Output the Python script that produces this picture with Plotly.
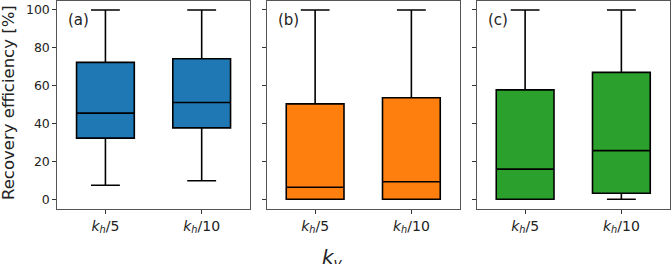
import plotly.graph_objects as go

W, H = 672, 264

# ---- data ----
categories = ["k_h/5", "k_h/10"]
tick_labels = ["<i>k</i><sub><i>h</i></sub>/5", "<i>k</i><sub><i>h</i></sub>/10"]
panel_labels = ["(a)", "(b)", "(c)"]
colors = ["#1f77b4", "#ff7f0e", "#2ca02c"]

a_lower = [7.4, 9.8]
a_q1 = [32.3, 37.7]
a_median = [45.5, 51.1]
a_q3 = [72.3, 74.2]
a_upper = [100, 100]

b_lower = [0, 0]
b_q1 = [0, 0]
b_median = [6.3, 9.2]
b_q3 = [50.4, 53.6]
b_upper = [100, 100]

c_lower = [0, 0]
c_q1 = [0, 3.2]
c_median = [15.9, 25.7]
c_q3 = [57.8, 67.0]
c_upper = [100, 100]

y_ticks = [0, 20, 40, 60, 80, 100]

panels = [
    (a_lower, a_q1, a_median, a_q3, a_upper),
    (b_lower, b_q1, b_median, b_q3, b_upper),
    (c_lower, c_q1, c_median, c_q3, c_upper),
]

# ---- layout in pixels ----
px_left = [57.3, 267.0, 477.0]
px_width = 192.5
px_top, px_bottom = 0.5, 208.7

fig = go.Figure()
positions = [1, 2]
font = "DejaVu Sans, Arial, sans-serif"

for i, (lo, q1, med, q3, up) in enumerate(panels):
    ax = "" if i == 0 else str(i + 1)
    fig.add_trace(go.Box(
        x=positions, lowerfence=lo, q1=q1, median=med, q3=q3, upperfence=up,
        width=0.6, whiskerwidth=0.5, boxpoints=False,
        fillcolor=colors[i], line=dict(color="black", width=1.6),
        xaxis="x" + ax, yaxis="y" + ax, showlegend=False, hoverinfo="skip",
    ))
    d0 = px_left[i] / W
    d1 = (px_left[i] + px_width) / W
    xa = dict(
        domain=[d0, d1], range=[0.5, 2.5], tickvals=positions, ticktext=tick_labels,
        ticks="outside", ticklen=4, tickwidth=1, tickcolor="#333",
        showline=True, mirror=True, linecolor="#555", linewidth=1,
        showgrid=False, zeroline=False,
        tickfont=dict(family=font, size=14, color="#222"),
        anchor="y" + ax,
    )
    ya = dict(
        domain=[1 - px_bottom / H, 1 - px_top / H], range=[-5, 105], tickvals=y_ticks,
        ticks="outside", ticklen=4, tickwidth=1, tickcolor="#333",
        showline=True, mirror=True, linecolor="#555", linewidth=1,
        showgrid=False, zeroline=False, showticklabels=(i == 0),
        tickfont=dict(family=font, size=12.5, color="#222"),
        anchor="x" + ax,
    )
    fig.layout["xaxis" + ax] = xa
    fig.layout["yaxis" + ax] = ya
    fig.add_annotation(
        x=(px_left[i] + 9) / W, y=1 - 20 / H, xref="paper", yref="paper",
        text=panel_labels[i], showarrow=False, xanchor="left", yanchor="middle",
        font=dict(family=font, size=15, color="#222"),
        bgcolor="rgba(255,255,255,0.8)",
    )

fig.add_annotation(
    x=8 / W, y=1 - 103 / H, xref="paper", yref="paper",
    text="Recovery efficiency [%]", textangle=-90, showarrow=False,
    xanchor="center", yanchor="middle",
    font=dict(family=font, size=16.5, color="#222"),
)
fig.add_annotation(
    x=332 / W, y=1 - 258 / H, xref="paper", yref="paper",
    text="<i>k</i><sub><i>v</i></sub>", showarrow=False,
    xanchor="center", yanchor="middle",
    font=dict(family=font, size=20, color="#222"),
)

fig.update_layout(
    width=W, height=H, margin=dict(l=0, r=0, t=0, b=0),
    paper_bgcolor="white", plot_bgcolor="white",
    boxmode="overlay",
)
fig.write_html("out.html")
